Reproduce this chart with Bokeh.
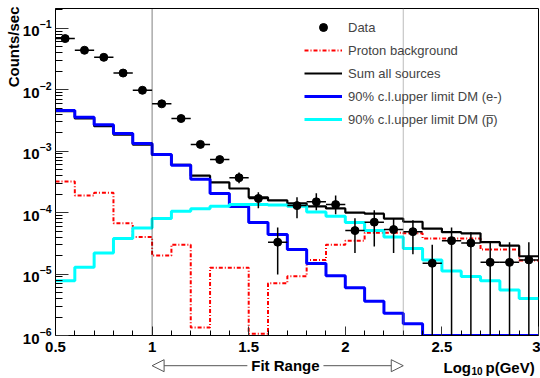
import math
from bokeh.plotting import figure
from bokeh.layouts import column
from bokeh.models import (FixedTicker, Span, Label, Arrow, NormalHead, Legend, LegendItem,
                          CustomJSTickFormatter, LogTickFormatter, Title, Range1d)
from bokeh.embed import file_html
from bokeh.resources import INLINE

# ---------------- data ----------------
bin_low = [0.5, 0.6, 0.7, 0.8, 0.9, 1.0, 1.1, 1.2, 1.3, 1.4, 1.5, 1.6, 1.7,
           1.8, 1.9, 2.0, 2.1, 2.2, 2.3, 2.4, 2.5, 2.6, 2.7, 2.8, 2.9]
bin_width = 0.1

data_y = [0.068, 0.0439, 0.0337, 0.0187, 0.0098, 0.0059, 0.0034, 0.00129, 0.00073,
          3.7e-4, 1.7e-4, 3.3e-5, 1.3e-4, 1.5e-4, 1.35e-4, 5.1e-5, 7.0e-5, 5.3e-5,
          4.9e-5, 1.5e-5, 3.5e-5, 3.2e-5, 1.55e-5, 1.55e-5, 1.7e-5]
data_hi = [0.071, 0.046, 0.0352, 0.0196, 0.0103, 0.0062, 0.00358, 0.00140, 0.00083,
           4.5e-4, 2.14e-4, 5.7e-5, 1.78e-4, 2.06e-4, 1.9e-4, 8.1e-5, 1.09e-4, 8.1e-5,
           7.5e-5, 3.0e-5, 5.7e-5, 4.8e-5, 3.3e-5, 3.3e-5, 3.3e-5]
data_lo = [0.065, 0.042, 0.0322, 0.0178, 0.0093, 0.0056, 0.00322, 0.00118, 0.00063,
           3.0e-4, 1.18e-4, 9.8e-6, 8.1e-5, 1.09e-4, 9.4e-5, 2.2e-5, 2.8e-5, 2.2e-5,
           2.1e-5, 1e-8, 1e-8, 1e-8, 1e-8, 1e-8, 1e-8]

proton_bg = [3.2e-4, 1.9e-4, 2.1e-4, 6.7e-5, 4.0e-5, 2.0e-5, 3.0e-5, 1.35e-6, 1.27e-5,
             1.27e-5, 1.07e-6, 7.1e-6, 9.2e-6, 1.7e-5, 3.0e-5, 3.5e-5, 4.7e-5, 4.7e-5,
             4.6e-5, 3.8e-5, 3.8e-5, 3.8e-5, 2.5e-5, 2.5e-5, 1.66e-5]
sum_all = [4.5e-3, 3.4e-3, 2.55e-3, 1.86e-3, 1.28e-3, 8.7e-4, 6.0e-4, 4.0e-4, 3.1e-4,
           2.47e-4, 1.77e-4, 1.58e-4, 1.41e-4, 1.26e-4, 1.17e-4, 1.0e-4, 9.6e-5, 8.0e-5,
           7.1e-5, 5.5e-5, 4.8e-5, 4.6e-5, 3.3e-5, 2.9e-5, 1.95e-5]
dm_electron = [4.6e-3, 3.55e-3, 2.7e-3, 1.94e-3, 1.33e-3, 8.8e-4, 5.9e-4, 3.5e-4, 2.05e-4,
               1.26e-4, 6.9e-5, 4.4e-5, 2.5e-5, 1.48e-5, 9.4e-6, 6.0e-6, 3.6e-6, 2.3e-6,
               1.55e-6, 1e-6, 1e-6, 1e-6, 1e-6, 1e-6, 1e-6]
dm_antiproton = [7.8e-6, 1.29e-5, 2.2e-5, 3.8e-5, 5.6e-5, 8.0e-5, 1.05e-4, 1.16e-4, 1.27e-4,
                 1.35e-4, 1.35e-4, 1.33e-4, 1.27e-4, 1.02e-4, 8.7e-5, 6.9e-5, 5.1e-5, 4.0e-5,
                 2.6e-5, 1.7e-5, 1.12e-5, 9.1e-6, 7.8e-6, 5.5e-6, 4.0e-6]

fit_range = [1.0, 2.3]
x_ticks = [0.5, 1.0, 1.5, 2.0, 2.5, 3.0]
x_minor = [0.6, 0.7, 0.8, 0.9, 1.1, 1.2, 1.3, 1.4, 1.6, 1.7, 1.8, 1.9,
           2.1, 2.2, 2.3, 2.4, 2.6, 2.7, 2.8, 2.9]
y_ticks = [1e-6, 1e-5, 1e-4, 1e-3, 1e-2, 1e-1]
y_minor = [k * t for t in y_ticks for k in range(2, 10) if k * t < 0.21]

x_min, x_max = 0.5, 3.0
y_min, y_max = 1e-6, 0.21

FONT = "Liberation Sans"
W, H = 540, 378
MAIN_H = 358
BORDER_L, BORDER_R = 55, 2

p = figure(width=W, height=MAIN_H, x_range=(x_min, x_max), y_range=(y_min, y_max),
           y_axis_type="log", output_backend="svg", toolbar_location=None,
           min_border_left=BORDER_L, min_border_right=BORDER_R, min_border_top=8,
           min_border_bottom=23,
           background_fill_color="white", border_fill_color="white")
p.xgrid.visible = False
p.ygrid.visible = False
p.outline_line_color = "black"
p.outline_line_width = 1

for ax in (p.xaxis[0], p.yaxis[0]):
    ax.major_tick_out = 0
    ax.minor_tick_out = 0
    ax.major_label_text_font = FONT
    ax.major_label_text_font_size = "15px"
    ax.major_label_text_font_style = "bold"
    ax.major_label_text_color = "black"
    ax.axis_line_color = "black"
    ax.major_tick_line_color = "#333333"
    ax.minor_tick_line_color = "black"

p.xaxis.ticker = FixedTicker(ticks=x_ticks, minor_ticks=x_minor)
p.xaxis.formatter = CustomJSTickFormatter(code="return tick.toString();")
p.xaxis.major_tick_in = 9
p.xaxis.minor_tick_in = 5
p.xaxis.major_label_standoff = 6

p.yaxis.ticker = FixedTicker(ticks=y_ticks, minor_ticks=y_minor)
p.yaxis.formatter = LogTickFormatter()
p.yaxis.major_tick_in = 13
p.yaxis.minor_tick_in = 7
p.yaxis.major_label_standoff = 4

# y axis title as a left-side title aligned to the top
p.add_layout(Title(text="Counts/sec", align="right", text_font=FONT, text_font_size="15px",
                   text_font_style="bold", text_color="black", standoff=-4, offset=-2),
             "left")

edges = bin_low + [bin_low[-1] + bin_width]
centers = [b + bin_width / 2 for b in bin_low]

def hist(vals, **kw):
    return p.step(x=edges, y=vals + [vals[-1]], mode="after", **kw)

r_red = hist(proton_bg, line_color="#ff0000", line_width=2, line_dash="4 2 1 2")
r_sum = hist(sum_all, line_color="black", line_width=2.2)
r_blue = hist(dm_electron, line_color="#0000ff", line_width=3)
r_cyan = hist(dm_antiproton, line_color="#00ffff", line_width=3)

# vertical lines at fit range
p.add_layout(Span(location=fit_range[0], dimension="height", line_color="black",
                  line_dash="1 1", line_width=1))
p.add_layout(Span(location=fit_range[1], dimension="height", line_color="#777777",
                  line_dash="1 1", line_width=1))

# data with error bars
p.segment(x0=[c - bin_width / 2 for c in centers], x1=[c + bin_width / 2 for c in centers],
          y0=data_y, y1=data_y, line_color="black", line_width=1.5)
p.segment(x0=centers, x1=centers, y0=data_lo, y1=data_hi, line_color="black", line_width=1.5)
r_data = p.scatter(x=centers, y=data_y, size=8, marker="circle", fill_color="black",
                   line_color="black")

legend = Legend(items=[
    LegendItem(label="Data", renderers=[r_data]),
    LegendItem(label="Proton background", renderers=[r_red]),
    LegendItem(label="Sum all sources", renderers=[r_sum]),
    LegendItem(label="90% c.l.upper limit DM (e-)", renderers=[r_blue]),
    LegendItem(label="90% c.l.upper limit DM (p\u0305)", renderers=[r_cyan]),
], location=(244, 201), padding=5, spacing=3, glyph_width=38, glyph_height=20,
    label_height=20, label_standoff=6, border_line_alpha=0, background_fill_alpha=0,
    label_text_font=FONT, label_text_font_size="13px", margin=0)
p.add_layout(legend)

# ---------- strip below the axis: fit range arrow and x-axis title ----------
q = figure(width=W, height=H - MAIN_H, x_range=p.x_range, y_range=Range1d(0, 1),
           output_backend="svg", toolbar_location=None, x_axis_location=None,
           y_axis_location=None, min_border_left=BORDER_L, min_border_right=BORDER_R,
           min_border_top=0, min_border_bottom=0, outline_line_color=None,
           background_fill_color="white", border_fill_color="white")
q.xgrid.visible = False
q.ygrid.visible = False

fit_mid = 1.69
gap = 0.197
row_y = 0.64
head_kw = dict(size=12, fill_color="white", line_color="#555555", line_width=1)
q.add_layout(Arrow(x_start=fit_mid - gap, y_start=row_y, x_end=fit_range[0], y_end=row_y,
                   end=NormalHead(**head_kw), line_color="#555555", line_width=1))
q.add_layout(Arrow(x_start=fit_mid + gap, y_start=row_y, x_end=fit_range[1], y_end=row_y,
                   end=NormalHead(**head_kw), line_color="#555555", line_width=1))
q.add_layout(Label(x=fit_mid, y=row_y, text="Fit Range", text_align="center",
                   text_baseline="middle", text_font=FONT, text_font_size="15px",
                   text_font_style="bold", text_color="black"))

lab_kw = dict(x=x_max, y=row_y, text_font=FONT, text_font_style="bold", text_color="black",
              text_align="left", text_baseline="alphabetic")
q.add_layout(Label(text="Log", x_offset=-95, y_offset=-2, text_font_size="15px", **lab_kw))
q.add_layout(Label(text="10", x_offset=-67, y_offset=-5, text_font_size="10px", **lab_kw))
q.add_layout(Label(text="p(GeV)", x_offset=-53, y_offset=-2, text_font_size="15px", **lab_kw))

layout = column(p, q, spacing=0)
open("out.html", "w").write(file_html(layout, INLINE))
